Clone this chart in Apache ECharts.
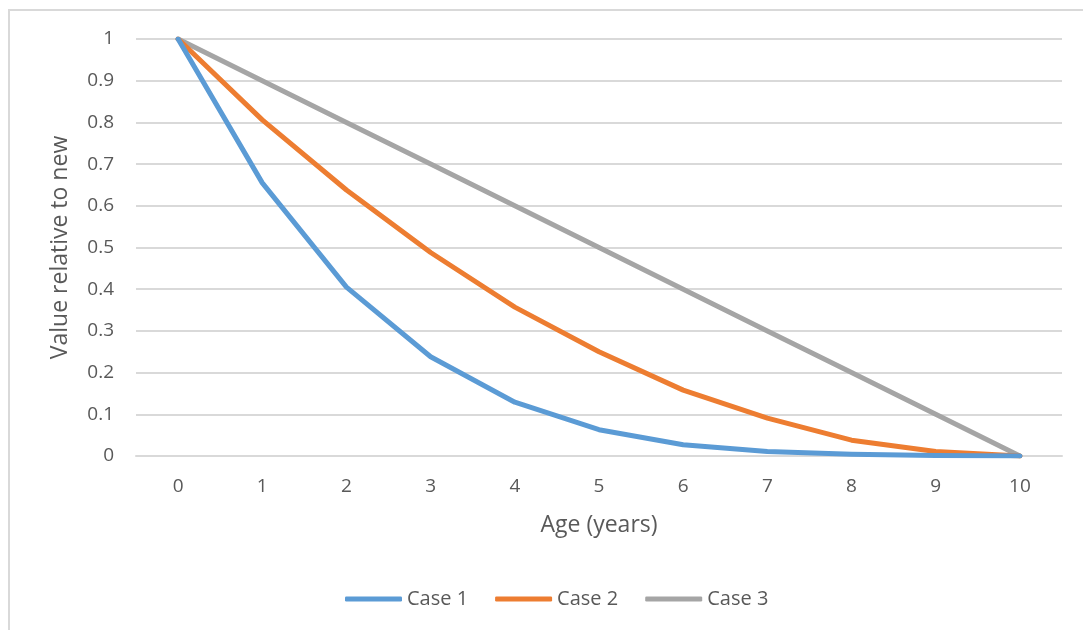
<!DOCTYPE html>
<html>
<head>
<meta charset="utf-8">
<script src="https://cdn.jsdelivr.net/npm/echarts@6/dist/echarts.min.js"></script>
<style>
html,body{margin:0;padding:0;background:#fff;}
#chart{width:1083px;height:630px;}
</style>
</head>
<body>
<div id="chart"></div>
<script>
const categories = ['0','1','2','3','4','5','6','7','8','9','10'];
const case1 = [1, 0.655, 0.405, 0.238, 0.129, 0.063, 0.027, 0.011, 0.004, 0.001, 0];
const case2 = [1, 0.806, 0.638, 0.488, 0.357, 0.25, 0.158, 0.091, 0.038, 0.011, 0];
const case3 = [1, 0.9, 0.8, 0.7, 0.6, 0.5, 0.4, 0.3, 0.2, 0.1, 0];
const seriesNames = ['Case 1', 'Case 2', 'Case 3'];
const colors = ['#5B9BD5', '#ED7D31', '#A5A5A5'];

const FONT = '"Open Sans", "Noto Sans", sans-serif';
const TXT = '#595959';

const chart = echarts.init(document.getElementById('chart'), null, {renderer: 'canvas'});
const seriesData = [case1, case2, case3];
chart.setOption({
  animation: false,
  textStyle: {fontFamily: FONT},
  graphic: [{
    type: 'rect', silent: true, z: -10,
    shape: {x: 9, y: 10, width: 1200, height: 800},
    style: {fill: 'none', stroke: '#d9d9d9', lineWidth: 2}
  }],
  grid: {left: 136, right: 21, top: 39, bottom: 174, containLabel: false},
  legend: {
    data: seriesNames,
    bottom: 16,
    left: 340,
    itemWidth: 57,
    itemHeight: 5,
    itemGap: 27,
    icon: 'roundRect',
    textStyle: {color: TXT, fontSize: 20, fontFamily: FONT}
  },
  xAxis: {
    type: 'category',
    data: categories,
    boundaryGap: true,
    name: 'Age (years)',
    nameLocation: 'middle',
    nameGap: 58,
    nameTextStyle: {color: TXT, fontSize: 23, fontFamily: FONT},
    axisLine: {show: true, lineStyle: {color: '#d9d9d9', width: 2}},
    axisTick: {show: false},
    axisLabel: {color: TXT, fontSize: 19, margin: 21, fontFamily: FONT}
  },
  yAxis: {
    type: 'value',
    min: 0, max: 1, interval: 0.1,
    name: 'Value relative to new',
    nameLocation: 'middle',
    nameGap: 64,
    nameTextStyle: {color: TXT, fontSize: 23, fontFamily: FONT},
    axisLine: {show: false},
    axisTick: {show: false},
    splitLine: {lineStyle: {color: '#d9d9d9', width: 2}},
    axisLabel: {color: TXT, fontSize: 19, margin: 22, fontFamily: FONT,
      formatter: v => String(Math.round(v * 10) / 10)}
  },
  series: seriesData.map((d, i) => ({
    name: seriesNames[i],
    type: 'line',
    data: d,
    symbol: 'none',
    smooth: false,
    lineStyle: {color: colors[i], width: 5, cap: 'round', join: 'round'},
    itemStyle: {color: colors[i]},
    z: 2 + (2 - i)
  }))
});
</script>
</body>
</html>
